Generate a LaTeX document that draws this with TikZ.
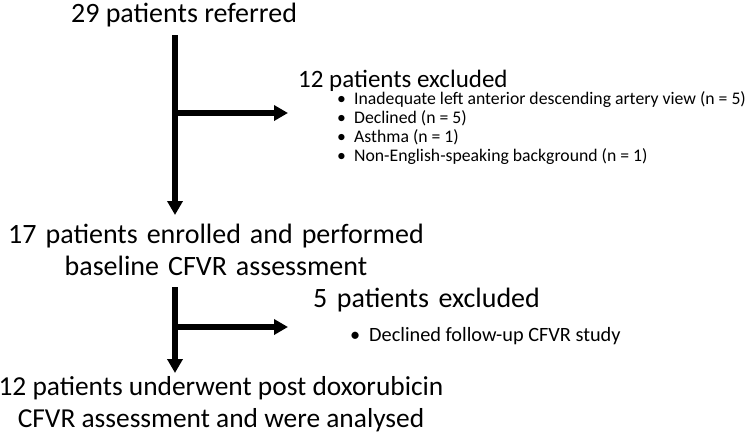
\documentclass[tikz,border=0pt]{standalone}
\usepackage{fontspec}
\setmainfont{Carlito}
\usetikzlibrary{arrows.meta}
\newcommand{\bul}{\makebox[18pt][l]{\hspace{1pt}\textbullet}}
\newcommand{\bulb}{\makebox[19pt][l]{\textbullet}}
\newcommand{\widesp}{\spaceskip=9pt\relax}
\newcommand{\widerspace}{\spaceskip=9.5pt\relax}
\begin{document}
\begin{tikzpicture}[x=1pt,y=-1pt,
  big/.style={font=\fontsize{28}{32}\selectfont, inner sep=0pt, anchor=base, align=center},
  mid/.style={font=\fontsize{25}{30}\selectfont, inner sep=0pt, anchor=base west},
  small/.style={font=\fontsize{17.7}{19}\selectfont, inner sep=0pt, anchor=base west, align=left},
  flow/.style={line width=5.5pt, -{Triangle[length=14pt,width=15pt]}}]
\useasboundingbox (0,0) rectangle (750,434);
\node[big] (ref) at (184,22) {29 patients referred};
\node[mid] (exc1) at (298,87) {12 patients excluded};
\node[small] (list1) at (336,161) {\bul Inadequate left anterior descending artery view (n = 5)\\
\bul Declined (n = 5)\\
\bul Asthma (n = 1)\\
\bul Non-English-speaking background (n = 1)};
\node[big, font=\fontsize{28}{32}\selectfont\widesp] (enr) at (216,275) {17 patients enrolled and performed\\baseline CFVR assessment};
\node[mid, font=\fontsize{28}{30}\selectfont\widerspace] (exc2) at (313,307) {5 patients excluded};
\node[small, font=\fontsize{20.3}{20}\selectfont] (list2) at (350,341) {\bulb Declined follow-up CFVR study};
\node[big, font=\fontsize{27.4}{31.5}\selectfont] (ana) at (221,427) {12 patients underwent post doxorubicin\\CFVR assessment and were analysed};
\coordinate (t1) at (175,35);
\coordinate (b1) at (175,215);
\coordinate (j1) at (175,113);
\coordinate (e1) at (288,113);
\coordinate (t2) at (175,287);
\coordinate (b2) at (175,373);
\coordinate (j2) at (175,327);
\coordinate (e2) at (288,327);
\draw[flow] (t1) -- (b1);
\draw[flow] (j1) -- (e1);
\draw[flow] (t2) -- (b2);
\draw[flow] (j2) -- (e2);
\end{tikzpicture}
\end{document}
